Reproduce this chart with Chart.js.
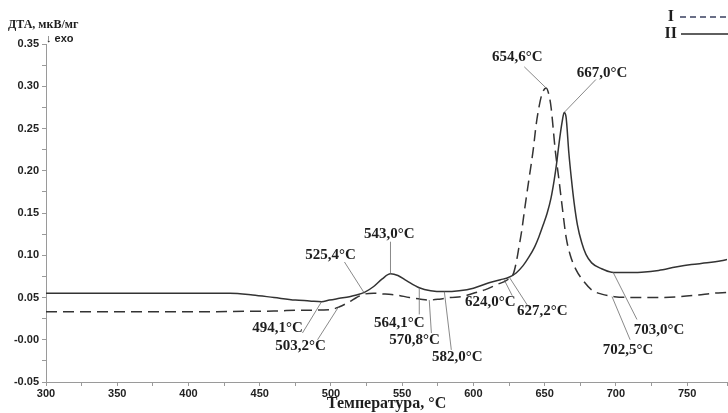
<!DOCTYPE html>
<html>
<head>
<meta charset="utf-8">
<script src="https://cdn.jsdelivr.net/npm/chart.js@4.4.1/dist/chart.umd.min.js"></script>
<style>
  html, body { margin: 0; padding: 0; background: #fff; }
  #wrap { width: 728px; height: 413px; }
</style>
</head>
<body>
<div id="wrap"><canvas id="dtaChart" width="728" height="413"></canvas></div>
<script>
// Кривая I (штриховая)
const tempI = [300, 350, 400, 431, 460, 480, 499, 506, 513, 518, 523.5, 530, 538, 546, 555, 563, 569, 576, 584, 592, 600, 608, 616, 624, 628, 630, 632, 634, 636, 639, 642, 644, 646, 648, 651, 653, 654.6, 656, 657.4, 660, 662.5, 665, 668, 672, 677, 683, 690, 699, 715, 730, 745, 758, 768, 778];
const dtaI = [0.033, 0.033, 0.033, 0.0335, 0.034, 0.035, 0.0355, 0.039, 0.045, 0.05, 0.054, 0.055, 0.054, 0.053, 0.05, 0.048, 0.047, 0.048, 0.05, 0.051, 0.055, 0.059, 0.065, 0.071, 0.078, 0.091, 0.11, 0.13, 0.155, 0.19, 0.225, 0.254, 0.275, 0.29, 0.298, 0.29, 0.274, 0.25, 0.225, 0.19, 0.155, 0.122, 0.1, 0.083, 0.07, 0.059, 0.054, 0.051, 0.05, 0.05, 0.051, 0.053, 0.055, 0.056];

// Кривая II (сплошная)
const tempII = [300, 350, 400, 429, 445, 460, 475, 485, 493.4, 499, 506, 513, 518, 523.5, 530, 536, 541.8, 547, 553, 562, 570, 579.6, 590, 600, 611, 619, 625, 630, 635, 639, 643, 646, 649, 651.8, 654.5, 656.7, 658.5, 660, 662.3, 663.7, 665, 667, 668.8, 670.7, 673, 676, 679, 683, 690, 697, 705, 718, 730, 742, 753, 764, 774, 778];
const dtaII = [0.055, 0.055, 0.055, 0.055, 0.053, 0.05, 0.047, 0.046, 0.045, 0.047, 0.049, 0.051, 0.053, 0.056, 0.063, 0.072, 0.078, 0.076, 0.07, 0.0615, 0.058, 0.057, 0.058, 0.061, 0.0675, 0.071, 0.074, 0.079, 0.088, 0.098, 0.11, 0.122, 0.136, 0.15, 0.168, 0.189, 0.21, 0.231, 0.258, 0.269, 0.264, 0.221, 0.19, 0.162, 0.136, 0.115, 0.101, 0.091, 0.084, 0.08, 0.0795, 0.08, 0.082, 0.086, 0.089, 0.091, 0.0935, 0.095];

// подписи температур эффектов
const calloutTexts = ["494,1°C", "503,2°C", "525,4°C", "543,0°C", "564,1°C", "570,8°C", "582,0°C", "624,0°C", "627,2°C", "654,6°C", "667,0°C", "703,0°C", "702,5°C"];
const markTemps = [493.4, 505, 523.5, 541.8, 562, 569, 579.6, 621.6, 625.2, 651, 663.7, 698, 697.3];
const markValues = [0.045, 0.038, 0.055, 0.078, 0.0615, 0.047, 0.057, 0.071, 0.074, 0.298, 0.269, 0.08, 0.051];

// куда идут выноски (в координатах графика)
const calloutPos = [
  { lt: 480, lv: 0.008, tx: 462.6, ty: 0.014 },
  { lt: 490.6, lv: 0.0, tx: 478.7, ty: -0.007 },
  { lt: 509.5, lv: 0.092, tx: 499.7, ty: 0.100 },
  { lt: 541.8, lv: 0.116, tx: 541, ty: 0.125 },
  { lt: 562, lv: 0.030, tx: 548, ty: 0.020 },
  { lt: 570.5, lv: 0.008, tx: 558.6, ty: 0.0 },
  { lt: 584.5, lv: -0.012, tx: 588.7, ty: -0.021 },
  { lt: 627.3, lv: 0.052, tx: 611.8, ty: 0.044 },
  { lt: 639, lv: 0.038, tx: 648.3, ty: 0.034 },
  { lt: 635.7, lv: 0.323, tx: 630.8, ty: 0.334 },
  { lt: 686, lv: 0.308, tx: 690.3, ty: 0.316 },
  { lt: 714.8, lv: 0.024, tx: 730.3, ty: 0.011 },
  { lt: 710, lv: 0.0, tx: 708.5, ty: -0.012 }
];

const serif = '"Liberation Serif", "Times New Roman", serif';
const sans = '"Liberation Sans", Arial, sans-serif';

const calloutPlugin = {
  id: "callouts",
  afterDatasetsDraw(chart) {
    const { ctx, scales } = chart;
    const x = scales.x;
    const y = scales.y;
    ctx.save();
    ctx.strokeStyle = "#6b6b6b";
    ctx.lineWidth = 0.8;
    ctx.font = "bold 15px " + serif;
    ctx.fillStyle = "#1e1e1e";
    ctx.textAlign = "center";
    ctx.textBaseline = "middle";
    calloutTexts.forEach((text, i) => {
      const p = calloutPos[i];
      ctx.beginPath();
      ctx.moveTo(x.getPixelForValue(markTemps[i]), y.getPixelForValue(markValues[i]));
      ctx.lineTo(x.getPixelForValue(p.lt), y.getPixelForValue(p.lv));
      ctx.stroke();
      ctx.fillText(text, x.getPixelForValue(p.tx), y.getPixelForValue(p.ty));
    });
    ctx.restore();
  }
};

// подпись оси Y и легенда I / II
const decorPlugin = {
  id: "decor",
  afterDraw(chart) {
    const ctx = chart.ctx;
    ctx.save();
    ctx.fillStyle = "#1e1e1e";
    ctx.textBaseline = "middle";
    ctx.textAlign = "left";
    ctx.font = "bold 12px " + serif;
    ctx.fillText("ДТА, мкВ/мг", 8, 25);
    ctx.font = "bold 11px " + sans;
    ctx.fillText("↓ exo", 46, 39);

    ctx.font = "bold 16px " + serif;
    ctx.textAlign = "right";
    ctx.fillText("I", 674, 17);
    ctx.fillText("II", 677, 34);
    ctx.lineWidth = 1.3;
    ctx.strokeStyle = "#3a4060";
    ctx.setLineDash([6, 4]);
    ctx.beginPath();
    ctx.moveTo(680, 17);
    ctx.lineTo(728, 17);
    ctx.stroke();
    ctx.setLineDash([]);
    ctx.strokeStyle = "#2a2a2a";
    ctx.beginPath();
    ctx.moveTo(681, 34);
    ctx.lineTo(728, 34);
    ctx.stroke();
    ctx.restore();
  }
};

const toPoints = (xs, ys) => xs.map((t, i) => ({ x: t, y: ys[i] }));

new Chart(document.getElementById("dtaChart"), {
  type: "line",
  data: {
    datasets: [
      {
        label: "I",
        data: toPoints(tempI, dtaI),
        borderColor: "#333333",
        borderWidth: 1.5,
        borderDash: [11, 6],
        pointRadius: 0,
        cubicInterpolationMode: "monotone",
        fill: false
      },
      {
        label: "II",
        data: toPoints(tempII, dtaII),
        borderColor: "#333333",
        borderWidth: 1.5,
        pointRadius: 0,
        cubicInterpolationMode: "monotone",
        fill: false
      }
    ]
  },
  options: {
    responsive: false,
    animation: false,
    layout: { padding: { top: 44, right: 0, left: 0, bottom: 0 } },
    plugins: {
      legend: { display: false },
      tooltip: { enabled: false }
    },
    scales: {
      x: {
        type: "linear",
        min: 300,
        max: 778,
        afterFit(scale) { scale.height = 31; },
        border: { color: "#9a9a9a" },
        grid: { drawOnChartArea: false, tickLength: 4, color: "#9a9a9a" },
        ticks: {
          stepSize: 25,
          autoSkip: false,
          maxRotation: 0,
          padding: 1,
          color: "#222",
          font: { family: sans, size: 11, weight: "bold" },
          callback: (v) => (v % 50 === 0 ? String(v) : "")
        },
        title: {
          display: true,
          text: "Температура, °C",
          color: "#1e1e1e",
          font: { family: serif, size: 16, weight: "bold" },
          padding: { top: 0, bottom: 0 }
        }
      },
      y: {
        min: -0.05,
        max: 0.35,
        afterFit(scale) { scale.width = 46; },
        border: { color: "#9a9a9a" },
        grid: { drawOnChartArea: false, tickLength: 4, color: "#9a9a9a" },
        ticks: {
          stepSize: 0.025,
          autoSkip: false,
          padding: 3,
          color: "#222",
          font: { family: sans, size: 11, weight: "bold" },
          callback: (v) => (Math.round(v * 1000) % 50 === 0 ? v.toFixed(2) : "")
        }
      }
    }
  },
  plugins: [calloutPlugin, decorPlugin]
});
</script>
</body>
</html>
